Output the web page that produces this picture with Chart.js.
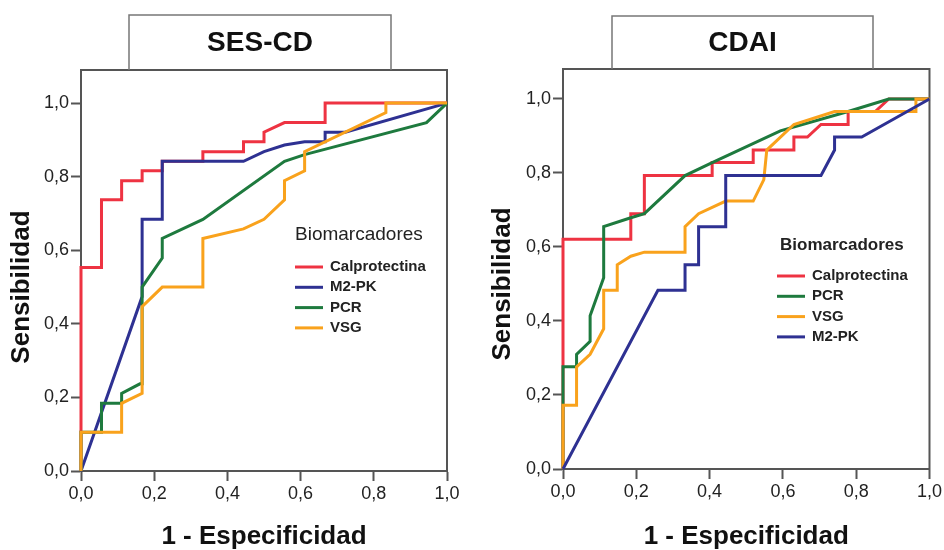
<!DOCTYPE html>
<html>
<head>
<meta charset="utf-8">
<script src="https://cdn.jsdelivr.net/npm/chart.js@4.4.1/dist/chart.umd.min.js"></script>
<style>
  body { margin: 0; background: #fff; }
  canvas { position: absolute; top: 0; }
</style>
</head>
<body>
<canvas id="chartSes" width="472" height="550" style="left:0"></canvas>
<canvas id="chartCdai" width="472" height="550" style="left:472px"></canvas>
<script>
const axisTicks = [0, 0.2, 0.4, 0.6, 0.8, 1.0];
const xTitle = '1 - Especificidad';
const yTitle = 'Sensibilidad';
const legendTitle = 'Biomarcadores';

// SES-CD
const sesCalproX = [0, 0, 0.056, 0.056, 0.111, 0.111, 0.167, 0.167, 0.222, 0.222, 0.333, 0.333, 0.444, 0.444, 0.5, 0.5, 0.556, 0.667, 0.667, 1];
const sesCalproY = [0, 0.553, 0.553, 0.737, 0.737, 0.789, 0.789, 0.816, 0.816, 0.842, 0.842, 0.868, 0.868, 0.895, 0.895, 0.921, 0.947, 0.947, 1, 1];
const sesM2pkX = [0, 0.167, 0.167, 0.222, 0.222, 0.444, 0.5, 0.556, 0.611, 0.667, 0.667, 0.722, 1];
const sesM2pkY = [0, 0.474, 0.684, 0.684, 0.842, 0.842, 0.868, 0.886, 0.895, 0.895, 0.921, 0.921, 1];
const sesPcrX = [0, 0, 0.056, 0.056, 0.111, 0.111, 0.161, 0.167, 0.167, 0.222, 0.222, 0.333, 0.556, 0.611, 0.944, 1];
const sesPcrY = [0, 0.105, 0.105, 0.184, 0.184, 0.211, 0.237, 0.237, 0.5, 0.579, 0.632, 0.684, 0.842, 0.86, 0.947, 1];
const sesVsgX = [0, 0, 0.111, 0.111, 0.167, 0.167, 0.222, 0.333, 0.333, 0.444, 0.5, 0.556, 0.556, 0.611, 0.611, 0.833, 0.833, 1];
const sesVsgY = [0, 0.105, 0.105, 0.184, 0.211, 0.447, 0.5, 0.5, 0.632, 0.658, 0.684, 0.737, 0.789, 0.816, 0.868, 0.974, 1, 1];

// CDAI
const cdaiCalproX = [0, 0, 0.185, 0.185, 0.222, 0.222, 0.407, 0.407, 0.519, 0.519, 0.63, 0.63, 0.667, 0.704, 0.778, 0.778, 0.852, 0.889, 1];
const cdaiCalproY = [0, 0.621, 0.621, 0.69, 0.69, 0.793, 0.793, 0.828, 0.828, 0.862, 0.862, 0.897, 0.897, 0.931, 0.931, 0.966, 0.966, 1, 1];
const cdaiPcrX = [0, 0, 0.037, 0.037, 0.074, 0.074, 0.111, 0.111, 0.185, 0.222, 0.333, 0.407, 0.593, 0.778, 0.889, 0.963, 1];
const cdaiPcrY = [0, 0.276, 0.276, 0.31, 0.345, 0.414, 0.517, 0.655, 0.679, 0.69, 0.793, 0.828, 0.914, 0.966, 1, 1, 1];
const cdaiVsgX = [0, 0, 0.037, 0.037, 0.074, 0.111, 0.111, 0.148, 0.148, 0.185, 0.222, 0.333, 0.333, 0.37, 0.444, 0.519, 0.548, 0.556, 0.63, 0.741, 0.963, 0.963, 1];
const cdaiVsgY = [0, 0.172, 0.172, 0.276, 0.31, 0.379, 0.483, 0.483, 0.552, 0.575, 0.586, 0.586, 0.655, 0.69, 0.724, 0.724, 0.782, 0.862, 0.931, 0.966, 0.966, 1, 1];
const cdaiM2pkX = [0, 0.259, 0.333, 0.333, 0.37, 0.37, 0.444, 0.444, 0.704, 0.741, 0.741, 0.815, 1];
const cdaiM2pkY = [0, 0.483, 0.483, 0.552, 0.552, 0.655, 0.655, 0.793, 0.793, 0.862, 0.897, 0.897, 1];

const colores = {
  'Calprotectina': '#ee3342',
  'M2-PK': '#2e3192',
  'PCR': '#1e7a3e',
  'VSG': '#f9a21c'
};

const fuente = '"Liberation Sans", Arial, sans-serif';
const fmt = v => v.toFixed(1).replace('.', ',');

function puntos(xs, ys) {
  return xs.map((x, i) => ({ x: x, y: ys[i] }));
}

function serie(label, xs, ys, n, i) {
  return {
    label: label,
    data: puntos(xs, ys),
    borderColor: colores[label],
    borderWidth: 3,
    pointRadius: 0,
    tension: 0,
    fill: false,
    clip: false,
    order: n - i
  };
}

// marco, caja del titulo, titulo del eje y y leyenda al estilo SPSS
const spssPlugin = {
  id: 'spss',
  beforeDatasetsDraw(chart, args, o) {
    const { ctx, chartArea: a } = chart;
    ctx.save();
    ctx.strokeStyle = '#555';
    ctx.lineWidth = 2;
    ctx.strokeRect(a.left, a.top, a.right - a.left, a.bottom - a.top);

    ctx.strokeStyle = '#777';
    ctx.lineWidth = 1.5;
    ctx.beginPath();
    ctx.moveTo(o.box[0], a.top);
    ctx.lineTo(o.box[0], o.box[2]);
    ctx.lineTo(o.box[1], o.box[2]);
    ctx.lineTo(o.box[1], a.top);
    ctx.stroke();

    ctx.fillStyle = '#111';
    ctx.textAlign = 'center';
    ctx.textBaseline = 'middle';
    ctx.font = 'bold 28px ' + fuente;
    ctx.fillText(o.title, (o.box[0] + o.box[1]) / 2, (o.box[2] + a.top) / 2 + 1);

    const y = chart.scales.y;
    const yc = (y.getPixelForValue(0) + y.getPixelForValue(1)) / 2;
    ctx.translate(o.yTitleX, yc);
    ctx.rotate(-Math.PI / 2);
    ctx.font = 'bold 26px ' + fuente;
    ctx.fillText(yTitle, 0, 0);
    ctx.restore();
  },
  afterDatasetsDraw(chart, args, o) {
    const ctx = chart.ctx;
    ctx.save();
    ctx.fillStyle = '#222';
    ctx.textAlign = 'left';
    ctx.textBaseline = 'middle';
    ctx.font = o.legendFont;
    ctx.fillText(legendTitle, o.legend[0], o.legend[1]);
    ctx.font = 'bold 15px ' + fuente;
    chart.data.datasets.forEach((ds, i) => {
      const yy = o.legend[2] + i * o.legend[3];
      ctx.strokeStyle = ds.borderColor;
      ctx.lineWidth = 3;
      ctx.beginPath();
      ctx.moveTo(o.legend[4], yy);
      ctx.lineTo(o.legend[4] + 28, yy);
      ctx.stroke();
      ctx.fillText(ds.label, o.legend[4] + 35, yy);
    });
    ctx.restore();
  }
};

function escalas(yMax, xHeight, yWidth) {
  const grid = { drawOnChartArea: false, tickLength: 10, tickWidth: 2, tickColor: '#555' };
  const border = { color: '#555', width: 2 };
  const ticks = { callback: fmt, color: '#222', font: { family: fuente, size: 18 }, padding: 2, maxRotation: 0 };
  return {
    x: {
      type: 'linear', min: 0, max: 1,
      afterBuildTicks: s => { s.ticks = axisTicks.map(v => ({ value: v })); },
      afterFit: s => { s.height = xHeight; },
      grid: grid, border: border, ticks: ticks,
      title: { display: true, text: xTitle, color: '#111', padding: 0,
               font: { family: fuente, size: 26, weight: 'bold', lineHeight: 1 } }
    },
    y: {
      type: 'linear', min: 0, max: yMax,
      afterBuildTicks: s => { s.ticks = axisTicks.map(v => ({ value: v })); },
      afterFit: s => { s.width = yWidth; },
      grid: grid, border: border, ticks: ticks
    }
  };
}

function grafico(id, series, opts) {
  const n = series.length;
  new Chart(document.getElementById(id), {
    type: 'line',
    data: { datasets: series.map((s, i) => serie(s[0], s[1], s[2], n, i)) },
    options: {
      responsive: false,
      animation: false,
      layout: { padding: opts.padding },
      scales: escalas(opts.yMax, opts.xHeight, opts.yWidth),
      plugins: {
        legend: { display: false },
        tooltip: { enabled: false },
        spss: opts.spss
      }
    },
    plugins: [spssPlugin]
  });
}

grafico('chartSes', [
  ['Calprotectina', sesCalproX, sesCalproY],
  ['M2-PK', sesM2pkX, sesM2pkY],
  ['PCR', sesPcrX, sesPcrY],
  ['VSG', sesVsgX, sesVsgY]
], {
  padding: { left: 0, top: 70, right: 25, bottom: 0 },
  yMax: 1.09, xHeight: 79, yWidth: 81,
  spss: {
    title: 'SES-CD', box: [129, 391, 15], yTitleX: 22,
    legend: [295, 235, 267, 20.3, 295],
    legendFont: '19px ' + fuente
  }
});

grafico('chartCdai', [
  ['Calprotectina', cdaiCalproX, cdaiCalproY],
  ['PCR', cdaiPcrX, cdaiPcrY],
  ['VSG', cdaiVsgX, cdaiVsgY],
  ['M2-PK', cdaiM2pkX, cdaiM2pkY]
], {
  padding: { left: 0, top: 69, right: 12, bottom: 0 },
  yMax: 1.081, xHeight: 81, yWidth: 91,
  spss: {
    title: 'CDAI', box: [140, 401, 16], yTitleX: 31,
    legend: [308, 245, 276, 20.3, 305],
    legendFont: 'bold 17px ' + fuente
  }
});
</script>
</body>
</html>
